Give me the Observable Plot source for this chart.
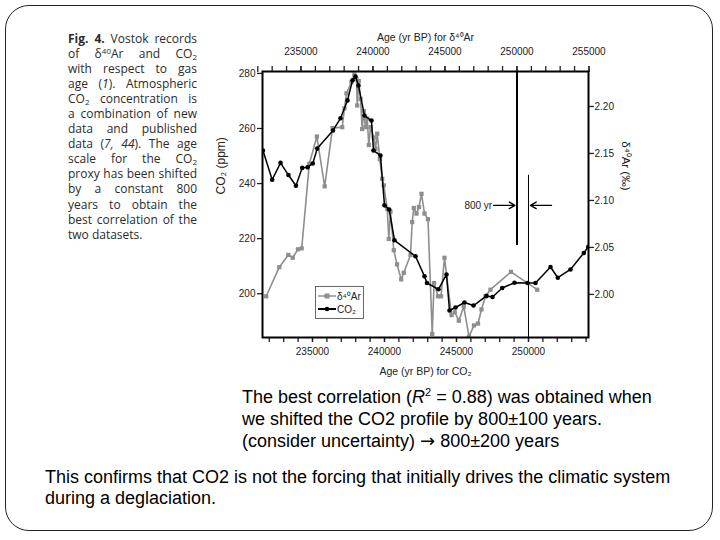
<!DOCTYPE html>
<html><head><meta charset="utf-8">
<script src="https://cdn.jsdelivr.net/npm/d3@7"></script>
<script src="https://cdn.jsdelivr.net/npm/@observablehq/plot@0.6"></script>
<style>
html,body{margin:0;padding:0;background:#fff;}
#slide{position:relative;width:720px;height:540px;overflow:hidden;background:#fff;}
#frame{position:absolute;left:5px;top:5px;width:708px;height:526px;border:1px solid #222;border-radius:24px;box-sizing:border-box;}
#caption{position:absolute;left:68px;top:30.5px;width:129px;font-family:"Open Sans","Noto Sans",sans-serif;font-size:12px;line-height:15.1px;color:#2b2b2b;}
#caption div{text-align:justify;text-align-last:justify;white-space:nowrap;height:15.1px;}
#caption div.last{text-align-last:left;}
#caption sub{font-size:8px;line-height:0;vertical-align:-2px;}
#caption sup{font-size:8px;line-height:0;vertical-align:4px;}
.body{position:absolute;font-family:"Liberation Sans",Arial,sans-serif;font-size:18px;color:#000;white-space:nowrap;}
.body sup{font-size:11px;line-height:0;vertical-align:7px;}
.arr{font-family:"DejaVu Sans",sans-serif;font-size:18px;line-height:0;}
#chart{position:absolute;left:200px;top:10px;}
#legend{position:absolute;left:315px;top:286px;}
</style></head>
<body><div id="slide">
<div id="frame"></div>
<div id="caption">
<div><b>Fig. 4.</b> Vostok records</div>
<div>of &#948;<sup>40</sup>Ar and CO<sub>2</sub></div>
<div>with respect to gas</div>
<div>age (<i>1</i>). Atmospheric</div>
<div>CO<sub>2</sub> concentration is</div>
<div>a combination of new</div>
<div>data and published</div>
<div>data (<i>7, 44</i>). The age</div>
<div>scale for the CO<sub>2</sub></div>
<div>proxy has been shifted</div>
<div>by a constant 800</div>
<div>years to obtain the</div>
<div>best correlation of the</div>
<div class="last">two datasets.</div>
</div>
<div id="chart"></div>
<div id="legend"></div>
<div class="body" style="left:242px;top:387px;line-height:21.8px;">The best correlation (<i>R</i><sup>2</sup> = 0.88) was obtained when<br>we shifted the CO2 profile by 800±100 years.<br>(consider uncertainty) <span class="arr">→</span> 800±200 years</div>
<div class="body" style="left:45px;top:466.5px;line-height:21px;">This confirms that CO2 is not the forcing that initially drives the climatic system<br>during a deglaciation.</div>
</div>
<script>
// CO2 record (age for CO2, yr BP; ppm)
const co2Age = [231560, 232200, 232780, 233330, 233850, 234285, 234655, 235020, 235325, 236425, 236945, 237430, 237780, 237985, 238195, 238610, 239095, 239235, 239720, 240000, 240325, 240695, 242155, 242780, 242950, 243750, 244305, 244515, 244930, 245555, 246180, 247085, 247500, 248175, 249030, 249930, 250485, 251530, 252035, 252915, 253840, 254150];
const co2Ppm = [252.0, 241.4, 247.5, 243.1, 239.2, 245.7, 245.9, 247.3, 252.7, 259.3, 263.7, 270.2, 277.5, 278.9, 275.6, 264.7, 262.9, 252.0, 250.2, 232.1, 230.6, 219.4, 213.6, 206.3, 203.9, 201.6, 207.0, 193.9, 195.0, 196.8, 195.7, 199.2, 198.8, 202.1, 204.0, 203.9, 203.9, 209.7, 205.8, 208.8, 214.8, 217.0];
// δ40Ar record (age for δ40Ar, yr BP; ‰)
const arAge = [232585, 233495, 234120, 234425, 234795, 235050, 235580, 236105, 236645, 237190, 237865, 238020, 238160, 238510, 238705, 238855, 238905, 239015, 239135, 239250, 239365, 239480, 239600, 239710, 239830, 240055, 240175, 240295, 240475, 240640, 240750, 240990, 241100, 241215, 241445, 241670, 241960, 242140, 242605, 242725, 242835, 243020, 243195, 243370, 243580, 243820, 244115, 244240, 244515, 244725, 244965, 245455, 245680, 245960, 246305, 246670, 247015, 247295, 247535, 247815, 248160, 249585, 251405];
const arValue = [1.998, 2.029, 2.042, 2.039, 2.048, 2.049, 2.139, 2.168, 2.115, 2.177, 2.178, 2.198, 2.214, 2.226, 2.234, 2.229, 2.201, 2.227, 2.208, 2.176, 2.195, 2.178, 2.187, 2.159, 2.178, 2.167, 2.155, 2.171, 2.144, 2.123, 2.116, 2.091, 2.059, 2.088, 2.047, 2.032, 2.016, 2.023, 2.042, 2.077, 2.092, 2.086, 2.093, 2.107, 2.086, 2.080, 1.958, 2.012, 1.998, 1.998, 2.039, 1.978, 1.981, 1.972, 1.987, 1.955, 1.967, 1.969, 1.984, 1.998, 2.005, 2.024, 2.005];

// axes
const co2Ticks = [200, 220, 240, 260, 280];
const arTicks = [2.00, 2.05, 2.10, 2.15, 2.20];
const co2AgeTicks = [235000, 240000, 245000, 250000];
const arAgeTicks = [235000, 240000, 245000, 250000, 255000];
const ageShift = 800;               // age scale shift between the two records
const xDomain = [231528, 254167];   // age for CO2
const yDomain = [184.1, 280.7];     // CO2 ppm
const arCal = [2.00, 2.20];         // δ40Ar values ...
const ppmCal = [199.75, 268.0];     // ... at these CO2 positions
const arToPpm = a => ppmCal[0] + (a - arCal[0]) * (ppmCal[1] - ppmCal[0]) / (arCal[1] - arCal[0]);
const ppmToAr = p => arCal[0] + (p - ppmCal[0]) * (arCal[1] - arCal[0]) / (ppmCal[1] - ppmCal[0]);

// annotation: 250000 on each age scale and the 800 yr arrows
const shiftLineAr = {age: 250000 - ageShift, top: 280.7, bottom: 217.5};
const shiftLineCo2 = {age: 250000, top: 243, bottom: 184.1};
const arrowY = 232.1;
const arrows = [
  {x1: 247570, x2: 249060, y: arrowY},
  {x1: 251600, x2: 250140, y: arrowY}
];
const arrowLabel = {age: 247480, y: arrowY, text: "800 yr"};

const co2 = co2Age.map((a, i) => ({age: a, ppm: co2Ppm[i]}));
const ar = arAge.map((a, i) => ({age: a - ageShift, ppm: arToPpm(arValue[i])}));
const minorBottom = d3.range(232000, 254001, 1000);
const minorTop = d3.range(232000, 255001, 1000).map(d => d - ageShift);

const grey = "#8e8e8e";
const chart = Plot.plot({
  width: 450, height: 375,
  marginLeft: 62, marginRight: 62, marginTop: 61, marginBottom: 48,
  x: {domain: xDomain},
  y: {domain: yDomain},
  style: {fontFamily: "'Liberation Sans', Arial, sans-serif", fontSize: "10px", color: "#222", background: "transparent", overflow: "visible"},
  marks: [
    Plot.line(ar, {x: "age", y: "ppm", stroke: grey, strokeWidth: 1.6, clip: true}),
    Plot.dot(ar, {x: "age", y: "ppm", symbol: "square", r: 2.4, fill: grey, clip: true}),
    Plot.line(co2, {x: "age", y: "ppm", stroke: "#000", strokeWidth: 1.5, clip: true}),
    Plot.dot(co2, {x: "age", y: "ppm", r: 2.3, fill: "#000", clip: true}),
    Plot.ruleX([shiftLineAr], {x: "age", y1: "top", y2: "bottom", stroke: "#000", strokeWidth: 2}),
    Plot.ruleX([shiftLineCo2], {x: "age", y1: "top", y2: "bottom", stroke: "#000", strokeWidth: 1}),
    Plot.arrow(arrows, {x1: "x1", x2: "x2", y1: "y", y2: "y", stroke: "#000", strokeWidth: 1.4, headLength: 7}),
    Plot.text([arrowLabel], {x: "age", y: "y", text: "text", textAnchor: "end", fontSize: 10, fill: "#222"}),
    // bottom axis
    Plot.axisX(minorBottom, {anchor: "bottom", tickSize: 5, tickFormat: () => "", label: null, strokeWidth: 1.3}),
    Plot.axisX(co2AgeTicks, {anchor: "bottom", tickSize: 5, tickPadding: 5, tickFormat: d => String(d), label: null, strokeWidth: 1.3}),
    // top axis (age for δ40Ar)
    Plot.axisX(minorTop, {anchor: "top", tickSize: 6, tickFormat: () => "", label: null, strokeWidth: 1.3}),
    Plot.axisX(arAgeTicks.map(d => d - ageShift), {anchor: "top", tickSize: 6, tickPadding: 11, tickFormat: d => String(Math.round(d + ageShift)), label: null, strokeWidth: 1.3}),
    // left axis CO2
    Plot.axisY(co2Ticks, {anchor: "left", tickSize: 5, tickPadding: 2, label: null, strokeWidth: 1.3}),
    // right axis δ40Ar
    Plot.axisY(arTicks.map(arToPpm), {anchor: "right", tickSize: 5, tickPadding: 1, tickFormat: d => ppmToAr(d).toFixed(2), label: null, strokeWidth: 1.3}),
    // axis titles
    Plot.text(["Age (yr BP) for δ⁴⁰Ar"], {text: d => d, frameAnchor: "top", dy: -38, fontSize: 10.5, fill: "#222"}),
    Plot.text(["Age (yr BP) for CO₂"], {text: d => d, frameAnchor: "bottom", dy: 37, fontSize: 10.5, fill: "#222"}),
    Plot.text(["CO₂ (ppm)"], {text: d => d, frameAnchor: "left", dx: -41, dy: -10, rotate: -90, fontSize: 12, fill: "#222"}),
    Plot.text(["δ⁴⁰Ar (‰)"], {text: d => d, frameAnchor: "right", dx: 37, dy: -14, rotate: 90, fontSize: 11.5, fill: "#222"}),
    Plot.frame({stroke: "#000", strokeWidth: 2})
  ]
});
document.getElementById("chart").appendChild(chart);

// legend
const legendItems = [
  {label: "δ⁴⁰Ar", color: grey, symbol: "square"},
  {label: "CO₂", color: "#000", symbol: "circle"}
];
const lg = d3.select("#legend").append("svg").attr("width", 50).attr("height", 34)
  .style("font-family", "'Liberation Sans', Arial, sans-serif").style("font-size", "10px");
lg.append("rect").attr("x", 0.5).attr("y", 0.5).attr("width", 48).attr("height", 32).attr("fill", "#fff").attr("stroke", "#444").attr("stroke-width", 0.8);
legendItems.forEach((d, i) => {
  const y = 10 + i * 13;
  lg.append("line").attr("x1", 3).attr("x2", 21).attr("y1", y).attr("y2", y).attr("stroke", d.color).attr("stroke-width", i ? 2 : 1.5);
  if (d.symbol === "square") lg.append("rect").attr("x", 9.5).attr("y", y - 2.5).attr("width", 5).attr("height", 5).attr("fill", d.color);
  else lg.append("circle").attr("cx", 12).attr("cy", y).attr("r", 2.3).attr("fill", d.color);
  lg.append("text").attr("x", 22).attr("y", y + 3.5).attr("fill", "#222").text(d.label);
});
</script>
</body></html>
